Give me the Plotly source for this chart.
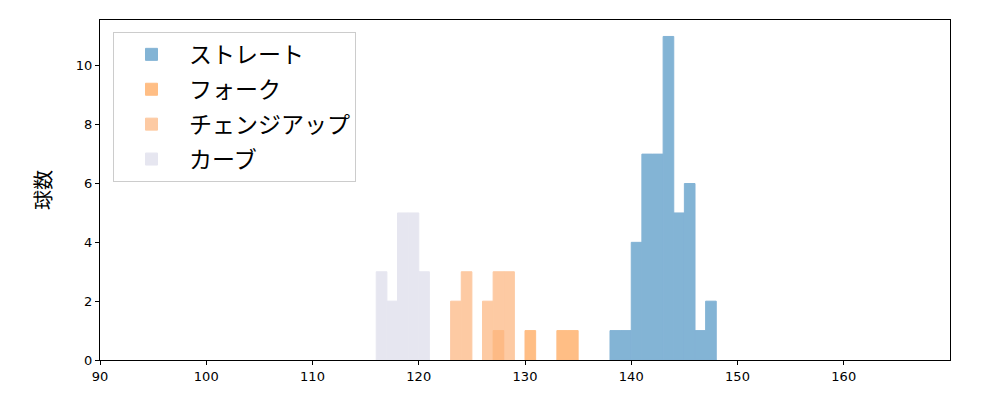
import plotly.graph_objects as go

# bin left edges (width 1) and counts
straight_bins = [138, 139, 140, 141, 142, 143, 144, 145, 146, 147]
straight_counts = [1, 1, 4, 7, 7, 11, 5, 6, 1, 2]
fork_bins = [127, 130, 133, 134]
fork_counts = [1, 1, 1, 1]
change_bins = [123, 124, 126, 127, 128]
change_counts = [2, 3, 2, 3, 3]
curve_bins = [116, 117, 118, 119, 120]
curve_counts = [3, 2, 5, 5, 3]

series = [
    ("ストレート", straight_bins, straight_counts, "#1f77b4", 0.55),
    ("フォーク", fork_bins, fork_counts, "#ff7f0e", 0.5),
    ("チェンジアップ", change_bins, change_counts, "#fdb985", 0.75),
    ("カーブ", curve_bins, curve_counts, "#cfcfe3", 0.5),
]

fig = go.Figure()
for name, bins, counts, col, op in series:
    fig.add_trace(go.Bar(
        x=bins, y=counts, name=name, width=[1] * len(bins), offset=0,
        marker=dict(color=col, line=dict(width=1, color=col)), opacity=op,
        legendgroup=name,
    ))

# page body has an 8px margin, so the figure is sized to fit the 1000x400 window
fig.update_layout(
    width=992, height=392,
    margin=dict(l=92, r=50, t=12, b=40),
    barmode="overlay",
    plot_bgcolor="white", paper_bgcolor="white",
    font=dict(family="DejaVu Sans, Noto Sans CJK JP", size=13, color="black"),
    showlegend=True,
    legend=dict(
        x=0.0153, y=0.965, xanchor="left", yanchor="top",
        bgcolor="white", bordercolor="#cccccc", borderwidth=1,
        font=dict(family="Noto Sans CJK JP", size=23),
        itemwidth=65, tracegroupgap=2,
    ),
    xaxis=dict(
        range=[90, 170], tickvals=[90, 100, 110, 120, 130, 140, 150, 160],
        showgrid=False, zeroline=False, automargin=False,
        showline=True, linecolor="black", linewidth=1, mirror=True,
        ticks="outside", ticklen=4, tickcolor="black",
    ),
    yaxis=dict(
        range=[0, 11.56], tickvals=[0, 2, 4, 6, 8, 10],
        showgrid=False, zeroline=False, automargin=False,
        showline=True, linecolor="black", linewidth=1, mirror=True,
        ticks="outside", ticklen=4, tickcolor="black",
        title=dict(text="球数", font=dict(family="Noto Sans CJK JP", size=20), standoff=18),
    ),
)

fig.write_html("out.html")
